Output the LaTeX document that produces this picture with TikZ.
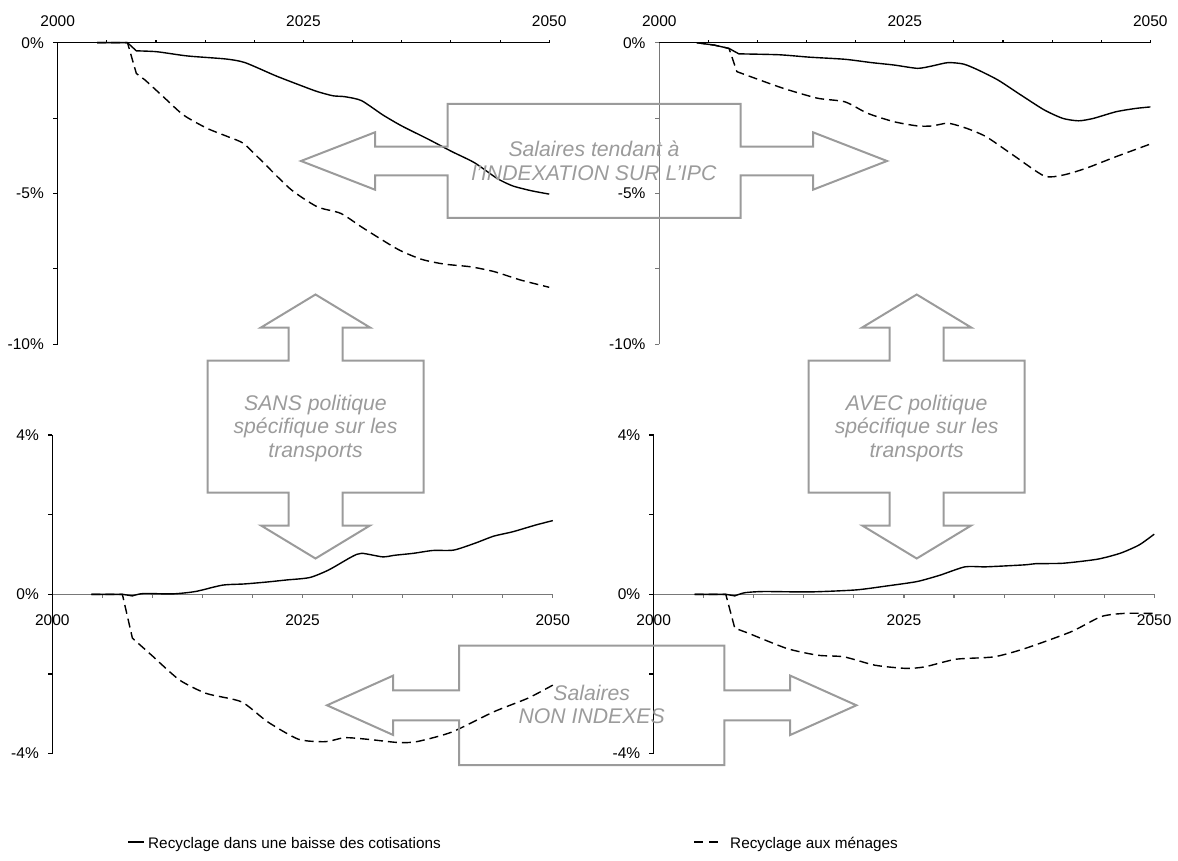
\documentclass[tikz,border=0pt]{standalone}
\usepackage{fontspec}
\setmainfont{Liberation Sans}
\usetikzlibrary{calc}

\definecolor{boxgray}{RGB}{155,155,155}
\definecolor{axisgray}{RGB}{120,120,120}

\begin{document}
\begin{tikzpicture}[x=1pt,y=-1pt]
  \tikzstyle{tick} = [font=\fontsize{15.5}{18}\selectfont, inner sep=0pt]
  \tikzstyle{axis} = [line width=1.1pt]
  \tikzstyle{cotis} = [line width=1.4pt, line join=round]
  \tikzstyle{menag} = [line width=1.4pt, line join=round, dash pattern=on 9pt off 5pt]
  \tikzstyle{callout} = [draw=boxgray, line width=2pt]
  \tikzstyle{calltext} = [text=boxgray, font=\fontsize{21.2}{23.6}\selectfont\itshape, align=center]
  \tikzstyle{legend} = [font=\fontsize{15.3}{18}\selectfont, inner sep=0pt, anchor=base west]

  \useasboundingbox (0,0) rectangle (1178,861);

  % top left : sans politique, indexation
  \begin{scope}[shift={(57.7pt,-42.7pt)},x=9.83pt,y=30.16pt]
    \draw[axis] (0,0) -- (50,0);
    \draw[axis] (0,0) -- (0,-10);
    \foreach \t in {5,10,...,50} \draw[axis] (\t,0) -- ++(0,3pt);
    \foreach \v in {0,-2.5,...,-10} \draw[axis] (0,\v) -- ++(-4.5pt,0);
    \node[tick,anchor=base,yshift=16pt] (tlyr0) at (0,0) {2000};
    \node[tick,anchor=base,yshift=16pt] (tlyr25) at (25,0) {2025};
    \node[tick,anchor=base,yshift=16pt] (tlyr50) at (50,0) {2050};
    \node[tick,anchor=east,xshift=-13.7pt] (tlv0) at (0,0) {0\%};
    \node[tick,anchor=east,xshift=-13.7pt] (tlv5) at (0,-5) {-5\%};
    \node[tick,anchor=east,xshift=-13.7pt] (tlv10) at (0,-10) {-10\%};
    \draw[cotis] (4,0) -- (7.1,0) -- plot[smooth,tension=.4] coordinates {(8,-0.27) (10.1,-0.30)
      (13.2,-0.44) (17.1,-0.54) (19.05,-0.66) (22.2,-1.10) (24.9,-1.44) (26.4,-1.62) (28,-1.76)
      (29.2,-1.79) (30.9,-1.92) (33.1,-2.40) (35,-2.76) (37.7,-3.2) (40.1,-3.61) (42.4,-3.98)
      (44.7,-4.50) (46.3,-4.75) (48.2,-4.91) (50,-5.02)};
    \draw[menag] (4,0) -- (7.1,0) -- (8,-1.02) -- plot[smooth,tension=.4] coordinates {(8.9,-1.24)
      (10.9,-1.84) (12.8,-2.40) (15.2,-2.84) (17.5,-3.14) (18.9,-3.34) (20.6,-3.87) (23.7,-4.86)
      (26.4,-5.44) (28.8,-5.66) (31.1,-6.15) (34.6,-6.85) (37,-7.18) (39.3,-7.34) (42,-7.43)
      (44.4,-7.59) (47.1,-7.87) (50,-8.11)};
  \end{scope}

  % top right : avec politique, indexation
  \begin{scope}[shift={(659.3pt,-42.7pt)},x=9.82pt,y=30.16pt]
    \draw[axis] (0,0) -- (50,0);
    \draw[axis,axisgray] (0,0) -- (0,-10);
    \foreach \t in {5,10,...,50} \draw[axis] (\t,0) -- ++(0,3pt);
    \foreach \v in {0,-2.5,...,-10} \draw[axis,axisgray] (0,\v) -- ++(-4.5pt,0);
    \node[tick,anchor=base,yshift=16pt] (tryr0) at (0,0) {2000};
    \node[tick,anchor=base,yshift=16pt] (tryr25) at (25,0) {2025};
    \node[tick,anchor=base,yshift=16pt] (tryr50) at (50,0) {2050};
    \node[tick,anchor=east,xshift=-13.7pt] (trv0) at (0,0) {0\%};
    \node[tick,anchor=east,xshift=-13.7pt] (trv5) at (0,-5) {-5\%};
    \node[tick,anchor=east,xshift=-13.7pt] (trv10) at (0,-10) {-10\%};
    \draw[cotis] (3.8,0) -- (5.6,-0.08) -- (7.1,-0.19) -- plot[smooth,tension=.4] coordinates {(8.1,-0.37)
      (12.2,-0.40) (15.3,-0.48) (18.9,-0.55) (21.6,-0.66) (23.9,-0.74) (26.3,-0.85) (27.8,-0.77)
      (29.4,-0.66) (31,-0.71) (32.5,-0.91) (34.5,-1.24) (36.8,-1.73) (39.2,-2.23) (41.1,-2.51)
      (42.7,-2.59) (44.2,-2.51) (46.5,-2.29) (48.5,-2.18) (50,-2.13)};
    \draw[menag] (3.8,0) -- (5.6,-0.08) -- (7.1,-0.19) -- (7.9,-0.96) -- plot[smooth,tension=.4]
      coordinates {(9.5,-1.15) (12.6,-1.51) (16.1,-1.84) (18.9,-1.96) (21.2,-2.34) (23.9,-2.62)
      (26.3,-2.76) (27.8,-2.76) (29.4,-2.67) (31.3,-2.84) (33.3,-3.12) (36,-3.72) (39.2,-4.42)
      (41.1,-4.39) (43.4,-4.17) (46.5,-3.78) (50,-3.36)};
  \end{scope}

  % bottom left : sans politique, non indexes
  \begin{scope}[shift={(52.3pt,-594.3pt)},x=10.01pt,y=39.83pt]
    \draw[axis,axisgray] (0,0) -- (50,0);
    \draw[axis] (0,4) -- (0,-4);
    \foreach \t in {5,10,...,50} \draw[axis,axisgray] (\t,0) -- ++(0,-4pt);
    \foreach \v in {4,2,...,-4} \draw[axis] (0,\v) -- ++(-4.5pt,0);
    \node[tick,anchor=base,yshift=-30.7pt] (blyr0) at (0,0) {2000};
    \node[tick,anchor=base,yshift=-30.7pt] (blyr25) at (25,0) {2025};
    \node[tick,anchor=base,yshift=-30.7pt] (blyr50) at (50,0) {2050};
    \node[tick,anchor=east,xshift=-13.3pt] (blv4) at (0,4) {4\%};
    \node[tick,anchor=east,xshift=-13.3pt] (blv0) at (0,0) {0\%};
    \node[tick,anchor=east,xshift=-13.3pt] (blvm4) at (0,-4) {-4\%};
    \draw[cotis] (3.9,0) -- (7,0) -- plot[smooth,tension=.4] coordinates {(8,-0.04) (9.1,0.02)
      (12,0.01) (14.3,0.07) (17,0.23) (19.2,0.26) (21.5,0.31) (23.4,0.36) (25.7,0.42) (27.6,0.61)
      (29.9,0.94) (30.9,1.03) (33,0.94) (34.2,0.98) (36.1,1.03) (38,1.10) (40.1,1.11) (42.2,1.28)
      (44.1,1.46) (46,1.57) (48.3,1.74) (50,1.85)};
    \draw[menag] (3.9,0) -- (7,0) -- (8,-1.10) -- plot[smooth,tension=.4] coordinates {(10.1,-1.57)
      (12.7,-2.15) (15.4,-2.49) (18.9,-2.70) (21.5,-3.20) (24.6,-3.64) (27.3,-3.70) (29.2,-3.60)
      (31.5,-3.64) (34.5,-3.72) (36.4,-3.70) (39.9,-3.46) (44.1,-2.95) (47.5,-2.61) (50,-2.28)};
  \end{scope}

  % bottom right : avec politique, non indexes
  \begin{scope}[shift={(653.7pt,-594.3pt)},x=10.01pt,y=39.83pt]
    \draw[axis,axisgray] (0,0) -- (50,0);
    \draw[axis] (0,4) -- (0,-4);
    \foreach \t in {5,10,...,50} \draw[axis,axisgray] (\t,0) -- ++(0,-4pt);
    \foreach \v in {4,2,...,-4} \draw[axis] (0,\v) -- ++(-4.5pt,0);
    \node[tick,anchor=base,yshift=-30.7pt] (bryr0) at (0,0) {2000};
    \node[tick,anchor=base,yshift=-30.7pt] (bryr25) at (25,0) {2025};
    \node[tick,anchor=base,yshift=-30.7pt] (bryr50) at (50,0) {2050};
    \node[tick,anchor=east,xshift=-13.3pt] (brv4) at (0,4) {4\%};
    \node[tick,anchor=east,xshift=-13.3pt] (brv0) at (0,0) {0\%};
    \node[tick,anchor=east,xshift=-13.3pt] (brvm4) at (0,-4) {-4\%};
    \draw[cotis] (4.1,0) -- (7.2,0) -- plot[smooth,tension=.4] coordinates {(8.1,-0.04) (9.1,0.04)
      (11,0.07) (15.6,0.06) (20.2,0.11) (23.3,0.21) (26.3,0.32) (28.6,0.48) (31.1,0.69) (33.2,0.69)
      (37.1,0.74) (38.2,0.77) (40.9,0.78) (44.3,0.88) (46.6,1.03) (48.5,1.24) (50,1.51)};
    \draw[menag] (4.1,0) -- (7.2,0) -- (8.1,-0.85) -- plot[smooth,tension=.4] coordinates {(9.5,-0.98)
      (13.3,-1.36) (16.4,-1.53) (19,-1.57) (22.1,-1.78) (25.2,-1.86) (27.1,-1.82) (30.2,-1.63)
      (34,-1.57) (37.1,-1.36) (41.7,-0.94) (44.7,-0.56) (47,-0.48) (50,-0.48)};
  \end{scope}

  % callout : indexation (horizontal)
  \begin{scope}[shift={(594pt,-161pt)}]
    \draw[callout] (-146.5,-57) -- (146.5,-57) -- (146.5,-14.3) -- (219,-14.3) -- (219,-28.7)
      -- (293,0) -- (219,28.7) -- (219,14.3) -- (146.5,14.3) -- (146.5,57) -- (-146.5,57)
      -- (-146.5,14.3) -- (-219,14.3) -- (-219,28.7) -- (-293,0) -- (-219,-28.7) -- (-219,-14.3)
      -- (-146.5,-14.3) -- cycle;
    \node[calltext] (indexe) at (0,0) {Salaires tendant à\\l’INDEXATION SUR L’IPC};
  \end{scope}

  % callout : non indexes (horizontal)
  \begin{scope}[shift={(591.7pt,-705.3pt)}]
    \draw[callout] (-132.7,-59.7) -- (132.7,-59.7) -- (132.7,-15) -- (198.5,-15) -- (198.5,-29.7)
      -- (264.7,0) -- (198.5,29.7) -- (198.5,15) -- (132.7,15) -- (132.7,59.7) -- (-132.7,59.7)
      -- (-132.7,15) -- (-198.5,15) -- (-198.5,29.7) -- (-264.7,0) -- (-198.5,-29.7) -- (-198.5,-15)
      -- (-132.7,-15) -- cycle;
    \node[calltext] (nonindexe) at (0,-1) {Salaires\\NON INDEXES};
  \end{scope}

  % callouts : sans / avec politique (vertical)
  \foreach \cx/\nm/\txt in {315.5/sans/SANS, 916.7/avec/AVEC} {
    \begin{scope}[shift={(\cx pt,-426.5pt)}]
      \draw[callout] (-108,-66) -- (-108,66) -- (-27,66) -- (-27,99) -- (-54.5,99) -- (0,132)
        -- (54.5,99) -- (27,99) -- (27,66) -- (108,66) -- (108,-66) -- (27,-66) -- (27,-99)
        -- (54.5,-99) -- (0,-132) -- (-54.5,-99) -- (-27,-99) -- (-27,-66) -- cycle;
      \node[calltext] (\nm) at (0,2) {\txt\ politique\\spécifique sur les\\transports};
    \end{scope}
  }

  % legend
  \coordinate (l1a) at (128,842);
  \coordinate (l1b) at (144,842);
  \draw[line width=2pt] (l1a) -- (l1b);
  \node[legend] (leg1) at (148,848) {Recyclage dans une baisse des cotisations};
  \coordinate (l2a) at (694,842);
  \coordinate (l2b) at (718,842);
  \draw[line width=2pt, dash pattern=on 9pt off 6pt] (l2a) -- (l2b);
  \node[legend] (leg2) at (730,848) {Recyclage aux ménages};

\end{tikzpicture}
\end{document}
